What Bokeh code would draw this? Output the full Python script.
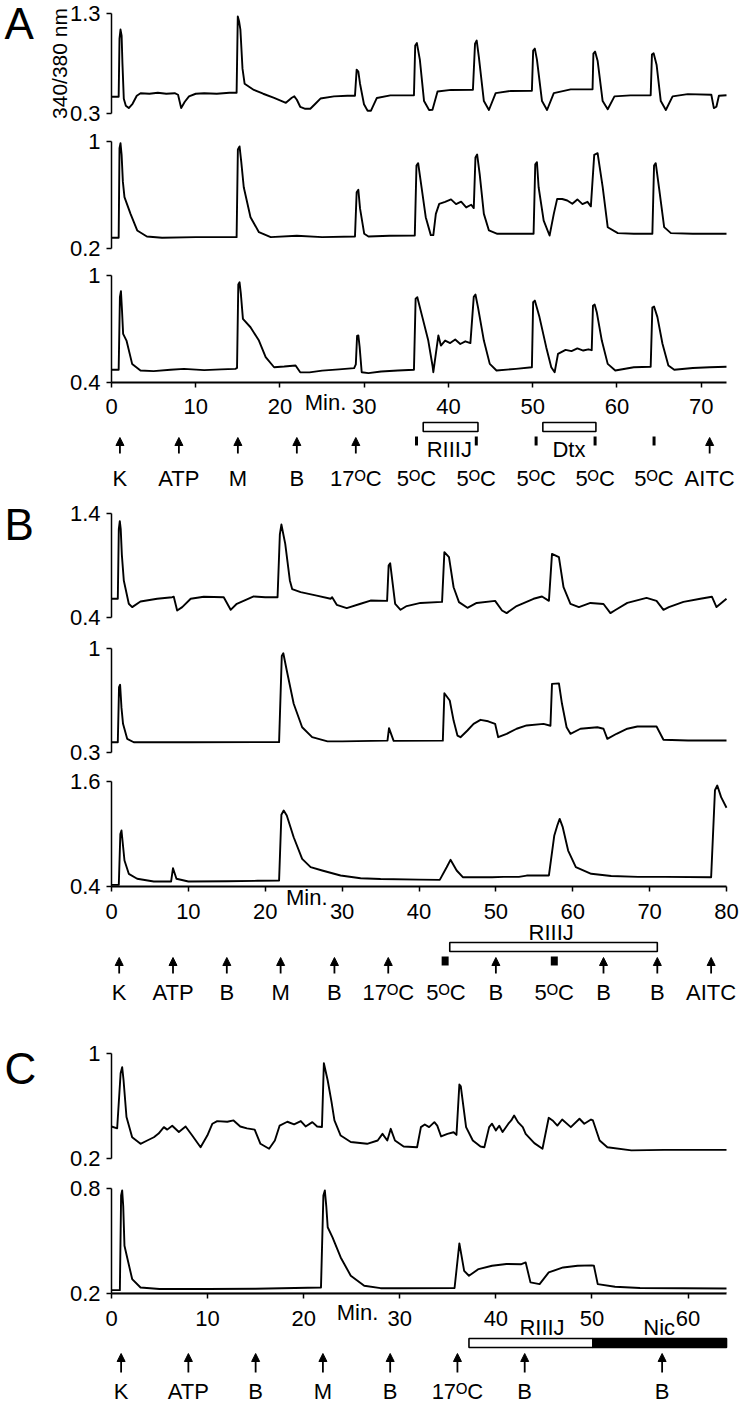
from bokeh.plotting import figure
from bokeh.models import (Range1d, LinearAxis, FixedTicker, Arrow, NormalHead,
                          ColumnDataSource, CustomJSTickFormatter)
from bokeh.layouts import column
from bokeh.embed import file_html
from bokeh.resources import INLINE
from bokeh.core.properties import value

# ======================= DATA =======================
# ---- Panel A (time in min, ratio 340/380) ----
a1_t = [0, 0.85, 0.95, 1.07, 1.2, 1.3, 1.46, 1.7, 2.05, 2.5, 3.0, 3.45, 4.5, 5.5, 6.5, 7.5, 7.9, 8.27,
        8.7, 9.2, 10, 11, 12.5, 14.0, 14.85, 14.99, 15.15, 15.3, 15.55, 15.8, 16.9, 18.0, 19.3, 20.7,
        21.4, 21.7, 22.0, 22.4, 23.0, 23.6, 24.2, 24.8, 26.4, 28.0, 28.9, 29.1, 29.3, 29.5, 29.97, 30.4,
        30.8, 31.5, 33.1, 35.9, 36.05, 36.25, 36.6, 37.1, 37.7, 38.1, 38.7, 40.3, 42.9, 43.15, 43.35,
        43.6, 44.2, 44.8, 45.6, 47.4, 49.9, 50.05, 50.25, 50.5, 51.1, 51.7, 52.5, 54.5, 57.1, 57.2, 57.4,
        57.7, 58.3, 58.9, 59.7, 61.6, 64.0, 64.15, 64.35, 64.7, 65.2, 65.8, 66.6, 68.4, 71.2, 71.5, 71.8,
        72.1, 73.0]
a1_v = [0.47, 0.47, 1.05, 1.14, 1.08, 0.80, 0.45, 0.38, 0.357, 0.40, 0.48, 0.505, 0.50, 0.51, 0.50, 0.505,
        0.49, 0.357, 0.42, 0.474, 0.50, 0.505, 0.50, 0.51, 0.51, 1.27, 1.22, 1.14, 0.75, 0.60, 0.538, 0.50,
        0.458, 0.41, 0.46, 0.474, 0.44, 0.37, 0.35, 0.35, 0.40, 0.452, 0.474, 0.48, 0.48, 0.74, 0.72,
        0.60, 0.395, 0.331, 0.331, 0.458, 0.484, 0.484, 0.98, 1.005, 0.84, 0.427, 0.338, 0.34, 0.522,
        0.538, 0.54, 1.0, 1.03, 0.87, 0.427, 0.338, 0.506, 0.528, 0.53, 0.93, 0.95, 0.84, 0.427, 0.338,
        0.506, 0.544, 0.545, 0.90, 0.92, 0.83, 0.427, 0.345, 0.474, 0.484, 0.485, 0.89, 0.903, 0.79,
        0.427, 0.338, 0.474, 0.496, 0.49, 0.357, 0.37, 0.48, 0.485]

a2_t = [0, 0.85, 0.95, 1.07, 1.2, 1.35, 1.54, 2.26, 3.05, 4.2, 6, 10, 14.85, 15.0, 15.2, 15.4, 15.7, 16.5,
        17.5, 18.9, 22, 25, 28.9, 29.1, 29.3, 29.5, 30.0, 30.5, 33, 36.0, 36.2, 36.4, 36.8, 37.3, 37.9,
        38.2, 38.5, 38.9, 39.6, 40.3, 40.9, 41.5, 42.1, 42.7, 43.0, 43.2, 43.4, 43.7, 44.2, 44.8, 45.8,
        48, 50.1, 50.3, 50.5, 50.7, 51.3, 52.0, 52.5, 52.9, 53.5, 54.1, 54.7, 55.3, 55.9, 56.5, 56.9,
        57.3, 57.7, 58.3, 58.9, 60.1, 62, 64.2, 64.4, 64.6, 65.0, 65.6, 66.4, 69, 73]
a2_v = [0.28, 0.28, 0.95, 0.987, 0.90, 0.70, 0.584, 0.459, 0.335, 0.29, 0.28, 0.285, 0.285, 0.94, 0.963,
        0.85, 0.658, 0.434, 0.322, 0.285, 0.295, 0.285, 0.29, 0.62, 0.639, 0.50, 0.31, 0.29, 0.295,
        0.297, 0.82, 0.838, 0.658, 0.434, 0.30, 0.30, 0.459, 0.534, 0.549, 0.567, 0.532, 0.55, 0.507,
        0.527, 0.502, 0.88, 0.903, 0.758, 0.459, 0.335, 0.31, 0.31, 0.31, 0.83, 0.845, 0.658, 0.409,
        0.297, 0.459, 0.571, 0.57, 0.559, 0.534, 0.567, 0.532, 0.549, 0.515, 0.90, 0.913, 0.66, 0.359,
        0.315, 0.31, 0.31, 0.82, 0.838, 0.65, 0.36, 0.315, 0.31, 0.31]

a3_t = [0, 0.85, 1.0, 1.12, 1.25, 1.38, 1.78, 2.45, 3.44, 5, 7, 8.6, 11, 13, 14.7, 14.9, 15.05, 15.2,
        15.35, 15.6, 16.5, 17.5, 18.3, 19.3, 20.5, 21.85, 22.4, 23.5, 25, 27, 28.8, 29.0, 29.15, 29.3,
        29.45, 29.7, 30.5, 32, 34, 35.9, 36.1, 36.3, 36.9, 37.6, 38.1, 38.2, 38.8, 39.1, 39.6, 40.2, 40.8,
        41.4, 42.0, 42.6, 43.0, 43.2, 43.5, 44.2, 44.9, 45.7, 48.0, 49.9, 50.05, 50.25, 50.8, 51.6, 52.2,
        52.6, 53.0, 53.9, 54.6, 55.3, 56.0, 56.6, 57.0, 57.15, 57.35, 57.6, 58.2, 58.9, 59.8, 62.0, 64.0,
        64.2, 64.4, 64.8, 65.4, 66.1, 66.8, 69, 71.0, 73]
a3_v = [0.47, 0.47, 0.88, 0.912, 0.80, 0.672, 0.634, 0.503, 0.466, 0.462, 0.47, 0.475, 0.468, 0.472,
        0.475, 0.48, 0.95, 0.962, 0.90, 0.756, 0.709, 0.634, 0.541, 0.484, 0.488, 0.494, 0.456, 0.455,
        0.465, 0.472, 0.479, 0.50, 0.66, 0.663, 0.60, 0.456, 0.451, 0.46, 0.466, 0.47, 0.87, 0.878,
        0.766, 0.634, 0.494, 0.456, 0.663, 0.606, 0.634, 0.62, 0.64, 0.615, 0.63, 0.62, 0.88, 0.893,
        0.822, 0.634, 0.503, 0.466, 0.475, 0.484, 0.85, 0.859, 0.766, 0.597, 0.484, 0.456, 0.559, 0.582,
        0.575, 0.59, 0.578, 0.585, 0.58, 0.83, 0.837, 0.794, 0.634, 0.503, 0.466, 0.484, 0.487, 0.82,
        0.826, 0.766, 0.616, 0.494, 0.47, 0.48, 0.484, 0.487]

# ---- Panel B ----
b1_t = [0, 0.82, 0.95, 1.08, 1.2, 1.35, 1.6, 2.25, 2.69, 3.77, 5.94, 7.89, 8.1, 8.54, 9.2, 10.3, 12, 14.6,
        15.5, 16.3, 18.5, 20, 21.6, 21.9, 22.1, 22.35, 22.6, 23.2, 23.5, 24.6, 26.7, 28.5, 28.7, 29.3,
        30.6, 32.4, 33.7, 35.85, 36.05, 36.25, 36.9, 37.6, 38.4, 40.2, 43.0, 43.3, 43.9, 44.5, 45.2, 46.3,
        47.5, 49.9, 50.8, 51.4, 52.7, 54.9, 56.0, 56.9, 57.3, 58.2, 58.8, 59.7, 60.8, 62.3, 64.0, 64.9,
        65.5, 67.1, 69.6, 70.9, 71.8, 72.5, 74.4, 76.6, 78.1, 78.7, 80]
b1_v = [0.58, 0.58, 1.25, 1.326, 1.25, 1.0, 0.756, 0.532, 0.50, 0.554, 0.58, 0.595, 0.60, 0.467, 0.50,
        0.58, 0.60, 0.595, 0.474, 0.532, 0.602, 0.595, 0.595, 1.2, 1.294, 1.2, 1.108, 0.756, 0.673,
        0.644, 0.611, 0.58, 0.595, 0.522, 0.49, 0.532, 0.563, 0.56, 0.90, 0.922, 0.532, 0.474, 0.51,
        0.54, 0.55, 1.028, 0.98, 0.691, 0.548, 0.493, 0.54, 0.56, 0.467, 0.442, 0.51, 0.58, 0.602, 0.56,
        1.012, 0.98, 0.691, 0.532, 0.50, 0.54, 0.53, 0.442, 0.47, 0.54, 0.589, 0.56, 0.474, 0.50, 0.55,
        0.58, 0.60, 0.50, 0.58]

b2_t = [0, 0.82, 0.98, 1.12, 1.3, 1.5, 2.04, 2.9, 10, 21.8, 22.15, 22.35, 22.8, 23.7, 24.8, 26.1, 28.1,
        30, 35.9, 36.1, 36.7, 43.1, 43.3, 44.0, 44.5, 45.0, 45.4, 46.3, 47.1, 48.0, 49.0, 49.9, 50.3,
        51.4, 52.7, 54.0, 56.2, 57.1, 57.3, 58.2, 58.6, 59.2, 59.7, 61.0, 63.2, 64.0, 64.5, 65.7, 67.1,
        68.4, 70.9, 71.8, 75, 80]
b2_v = [0.369, 0.369, 0.74, 0.756, 0.60, 0.493, 0.392, 0.369, 0.369, 0.37, 0.95, 0.968, 0.852, 0.628,
        0.47, 0.403, 0.375, 0.375, 0.38, 0.464, 0.378, 0.38, 0.699, 0.65, 0.515, 0.414, 0.403, 0.448,
        0.493, 0.52, 0.51, 0.493, 0.403, 0.426, 0.46, 0.482, 0.493, 0.48, 0.762, 0.765, 0.628, 0.47,
        0.426, 0.46, 0.47, 0.46, 0.392, 0.426, 0.46, 0.475, 0.475, 0.386, 0.381, 0.381]

b3_t = [0, 0.95, 1.15, 1.3, 1.69, 2.25, 3.34, 5.5, 7.75, 8.0, 8.45, 10, 15, 19, 21.8, 22.1, 22.4, 22.8,
        23.7, 24.8, 25.9, 27.4, 29.8, 32.4, 35, 40, 42.7, 43.6, 44.1, 44.9, 45.7, 49.5, 51, 53, 54, 56.9,
        57.6, 58.0, 58.3, 58.7, 59.4, 60.4, 62.4, 65, 68.5, 72, 78.0, 78.5, 78.8, 79.3, 80]
b3_v = [0.419, 0.419, 1.0, 1.04, 0.697, 0.545, 0.488, 0.457, 0.457, 0.609, 0.488, 0.457, 0.46, 0.465,
        0.469, 1.22, 1.269, 1.211, 0.963, 0.716, 0.621, 0.583, 0.526, 0.495, 0.485, 0.478, 0.476, 0.62,
        0.705, 0.583, 0.506, 0.506, 0.51, 0.51, 0.525, 0.526, 0.983, 1.10, 1.173, 1.078, 0.811, 0.621,
        0.545, 0.52, 0.51, 0.51, 0.506, 1.50, 1.554, 1.421, 1.30]

# ---- Panel C ----
c1_t = [0, 0.59, 0.95, 1.11, 1.25, 1.56, 2.15, 3.02, 3.72, 4.41, 4.9, 5.45, 5.8, 6.32, 7.01, 7.71, 8.4,
        9.27, 9.97, 10.5, 11.0, 12.05, 12.7, 13.4, 14.1, 14.9, 15.5, 16.4, 17.0, 17.5, 18.3, 19.0, 19.7,
        20.2, 20.9, 21.4, 21.9, 22.1, 22.5, 22.9, 23.2, 23.85, 24.9, 26.6, 27.7, 28.2, 28.7, 29.06, 29.5,
        30.4, 31.8, 32.2, 32.6, 33.05, 33.6, 33.9, 34.3, 34.96, 35.6, 35.9, 36.2, 36.35, 36.9, 37.6, 38.4,
        38.8, 39.3, 39.6, 40.0, 40.35, 40.7, 41.3, 41.6, 41.9, 42.3, 42.8, 43.1, 44.0, 44.85, 45.5, 45.9,
        46.4, 46.9, 47.8, 48.7, 49.2, 49.9, 50.1, 50.8, 51.6, 54.1, 57.5, 64.0]
c1_v = [0.444, 0.43, 0.85, 0.896, 0.80, 0.516, 0.362, 0.312, 0.337, 0.362, 0.39, 0.439, 0.42, 0.45,
        0.402, 0.444, 0.375, 0.286, 0.375, 0.465, 0.485, 0.48, 0.49, 0.444, 0.43, 0.42, 0.312, 0.274,
        0.337, 0.451, 0.48, 0.46, 0.485, 0.444, 0.477, 0.444, 0.44, 0.926, 0.794, 0.629, 0.49, 0.375,
        0.326, 0.312, 0.337, 0.388, 0.337, 0.426, 0.337, 0.291, 0.286, 0.439, 0.459, 0.439, 0.477, 0.45,
        0.368, 0.388, 0.40, 0.38, 0.764, 0.75, 0.439, 0.337, 0.291, 0.286, 0.439, 0.465, 0.414, 0.45,
        0.402, 0.465, 0.49, 0.528, 0.477, 0.439, 0.388, 0.317, 0.274, 0.51, 0.49, 0.451, 0.497, 0.439,
        0.503, 0.465, 0.497, 0.49, 0.337, 0.286, 0.262, 0.266, 0.266]

c2_t = [0, 0.87, 1.0, 1.11, 1.22, 1.35, 1.63, 2.15, 3.02, 5, 10, 15, 21.8, 22.05, 22.2, 22.35, 22.5, 23.0,
        23.85, 24.9, 26.3, 28, 30, 35.7, 36.2, 36.7, 37.2, 38.2, 39.6, 41.1, 42.6, 43.1, 43.6, 44.55,
        45.5, 47.0, 48.5, 49.97, 50.2, 50.6, 52.4, 55, 64]
c2_v = [0.221, 0.221, 0.76, 0.789, 0.70, 0.474, 0.407, 0.284, 0.236, 0.227, 0.227, 0.229, 0.236, 0.76,
        0.789, 0.70, 0.579, 0.522, 0.407, 0.303, 0.246, 0.232, 0.232, 0.233, 0.487, 0.331, 0.303, 0.341,
        0.36, 0.37, 0.368, 0.379, 0.265, 0.255, 0.322, 0.35, 0.36, 0.362, 0.36, 0.255, 0.24, 0.233, 0.23]
c2_floor_t = [0, 64]
c2_floor_v = [0.207, 0.207]

# ---- annotations (categories / tick labels) ----
a_arrow_t = [1, 8, 15, 22, 29, 71]
a_label_t = [1, 8, 15, 22, 29, 36.2, 43.3, 50.4, 57.4, 64.4, 71]
a_label_txt = ["K", "ATP", "M", "B", "17ᴼC", "5ᴼC", "5ᴼC", "5ᴼC", "5ᴼC", "5ᴼC", "AITC"]
a_mark_t = [36.2, 43.3, 50.4, 57.4, 64.4]
a_bar_l = [37.0, 51.2]
a_bar_r = [43.5, 57.5]
a_bar_txt = ["RIIIJ", "Dtx"]
a_bar_txt_t = [40.1, 54.3]

b_arrow_t = [1, 8, 15, 22, 29, 36, 50, 64, 71, 78]
b_label_t = [1, 8, 15, 22, 29, 36, 43.5, 50, 57.6, 64, 71, 78]
b_label_txt = ["K", "ATP", "B", "M", "B", "17ᴼC", "5ᴼC", "B", "5ᴼC", "B", "B", "AITC"]
b_mark_t = [43.4, 57.6]
b_bar_l = [44.0]
b_bar_r = [71.0]
b_bar_txt = ["RIIIJ"]
b_bar_txt_t = [57.2]

c_arrow_t = [1, 8, 15, 22, 29, 36, 43, 57.3]
c_label_t = [1, 8, 15, 22, 29, 36, 43, 57.3]
c_label_txt = ["K", "ATP", "B", "M", "B", "17ᴼC", "B", "B"]
c_open_l, c_open_r = [37.2], [50.1]
c_fill_l, c_fill_r = [50.1], [64.0]
c_bar_txt = ["RIIIJ", "Nic"]
c_bar_txt_t = [44.8, 57.0]

# ======================= LAYOUT / STYLE =======================
FONT = "Liberation Sans"
FS = "22px"
W = 741
AX0 = 111   # px where t = 0
AX1 = 726   # px where t = end
LW = 1.9


def make_panel(T, top, height, traces, letter, letter_mid, min_t, min_y, xticks):
    s = (AX1 - AX0) / T
    p = figure(width=W, height=height, title=None,
               x_range=Range1d(-AX0 / s, T + (W - AX1) / s),
               y_range=Range1d(height, 0),
               output_backend="svg", toolbar_location=None,
               x_axis_location=None, y_axis_location=None, min_border=0)
    p.outline_line_color = None
    p.grid.visible = False
    p.background_fill_color = "white"
    p.border_fill_color = "white"

    ranges = {}
    for (name, vmin, vmax, ptop, pbot, t, v, ylab) in traces:
        k = (vmax - vmin) / (pbot - ptop)
        ft, fb = ptop - top, pbot - top
        ranges[name] = Range1d(vmin - (height - fb) * k, vmax + ft * k)
    p.extra_y_ranges = ranges

    fmt_code = "return String(Math.round(tick*10)/10)"
    for (name, vmin, vmax, ptop, pbot, t, v, ylab) in traces:
        p.line(t, v, y_range_name=name, line_color="black", line_width=LW,
               line_join="round")
        ax = LinearAxis(y_range_name=name, fixed_location=0, bounds=(vmin, vmax),
                        ticker=FixedTicker(ticks=[vmin, vmax]),
                        formatter=CustomJSTickFormatter(code=fmt_code),
                        axis_line_width=1.5, axis_line_color="black",
                        major_tick_line_width=1.5, major_tick_out=5, major_tick_in=0,
                        minor_tick_line_color=None, major_label_standoff=6,
                        major_label_text_font=FONT, major_label_text_font_size=FS,
                        major_label_text_color="black")
        if ylab:
            ax.axis_label = ylab
            ax.axis_label_text_font = FONT
            ax.axis_label_text_font_size = "21px"
            ax.axis_label_text_font_style = "normal"
            ax.axis_label_standoff = -4
            ax.axis_label_text_color = "black"
        p.add_layout(ax, "left")

    bname, bmin = traces[-1][0], traces[-1][1]
    xax = LinearAxis(y_range_name=bname, fixed_location=bmin, bounds=(0, T),
                     ticker=FixedTicker(ticks=xticks),
                     axis_line_width=2, axis_line_color="black",
                     major_tick_line_width=1.5, major_tick_out=5, major_tick_in=0,
                     minor_tick_line_color=None, major_label_standoff=12,
                     major_label_text_font=FONT, major_label_text_font_size=FS,
                     major_label_text_color="black")
    p.add_layout(xax, "below")

    p.text(x=[(4 - AX0) / s], y=[letter_mid - top], text=[letter],
           text_font=value(FONT), text_font_size="44px", text_color="black",
           text_align="left", text_baseline="middle")
    p.text(x=[min_t], y=[min_y - top], text=["Min."], text_font=value(FONT),
           text_font_size=FS, text_color="black", text_align="center",
           text_baseline="middle")
    return p


def txt(p, top, xs, py, labels):
    p.text(x=xs, y=[py - top] * len(xs), text=labels, text_font=value(FONT),
           text_font_size=FS, text_color="black", text_align="center",
           text_baseline="middle")


def arrows(p, top, xs, pbot, ptop):
    src = ColumnDataSource(dict(x=xs, y0=[pbot - top] * len(xs), y1=[ptop - top] * len(xs)))
    p.add_layout(Arrow(end=NormalHead(size=8, fill_color="black", line_color="black",
                                      line_width=1),
                       x_start="x", y_start="y0", x_end="x", y_end="y1",
                       source=src, line_width=1.8, line_color="black"))


def marks(p, top, xs, py, w):
    p.rect(x=xs, y=[py - top] * len(xs), width=w, height=9, width_units="screen",
           height_units="screen", fill_color="black", line_color=None)


def bars(p, top, ls, rs, ptop, pbot, fill):
    p.quad(left=ls, right=rs, top=[ptop - top] * len(ls), bottom=[pbot - top] * len(ls),
           fill_color=fill, line_color="black", line_width=1.6)


# ---------------- Panel A ----------------
TA, HA = 0, 500
pA = make_panel(73, TA, HA,
                [("a1", 0.3, 1.3, 13, 113.3, a1_t, a1_v, "340/380 nm"),
                 ("a2", 0.2, 1.0, 141, 248, a2_t, a2_v, None),
                 ("a3", 0.4, 1.0, 275, 381.7, a3_t, a3_v, None)],
                "A", 23, 25.4, 402, list(range(0, 71, 10)))
bars(pA, TA, a_bar_l, a_bar_r, 422, 431, "white")
txt(pA, TA, a_bar_txt_t, 449, a_bar_txt)
marks(pA, TA, a_mark_t, 440.5, 3)
arrows(pA, TA, a_arrow_t, 453, 437)
txt(pA, TA, a_label_t, 478, a_label_txt)

# ---------------- Panel B ----------------
TB, HB = 500, 540
pB = make_panel(80, TB, HB,
                [("b1", 0.4, 1.4, 513, 617, b1_t, b1_v, None),
                 ("b2", 0.3, 1.0, 648, 752, b2_t, b2_v, None),
                 ("b3", 0.4, 1.6, 781, 886, b3_t, b3_v, None)],
                "B", 524, 25.4, 897, list(range(0, 81, 10)))
txt(pB, TB, b_bar_txt_t, 932, b_bar_txt)
bars(pB, TB, b_bar_l, b_bar_r, 942, 951, "white")
marks(pB, TB, b_mark_t, 960.5, 7)
arrows(pB, TB, b_arrow_t, 973, 957)
txt(pB, TB, b_label_t, 992, b_label_txt)

# ---------------- Panel C ----------------
TC, HC = 1040, 363
pC = make_panel(64, TC, HC,
                [("c1", 0.2, 1.0, 1053, 1158, c1_t, c1_v, None),
                 ("c2", 0.2, 0.8, 1188, 1293.3, c2_t, c2_v, None)],
                "C", 1068, 25.6, 1312, list(range(0, 61, 10)))
pC.line(c2_floor_t, c2_floor_v, y_range_name="c2", line_color="#9a9a9a", line_width=1,
        line_dash="1 1")
txt(pC, TC, c_bar_txt_t, 1327, c_bar_txt)
bars(pC, TC, c_open_l, c_open_r, 1338, 1347, "white")
bars(pC, TC, c_fill_l, c_fill_r, 1338, 1347, "black")
arrows(pC, TC, c_arrow_t, 1372, 1353)
txt(pC, TC, c_label_t, 1391, c_label_txt)

layout = column(pA, pB, pC, spacing=0)
open("out.html", "w").write(file_html(layout, INLINE))
